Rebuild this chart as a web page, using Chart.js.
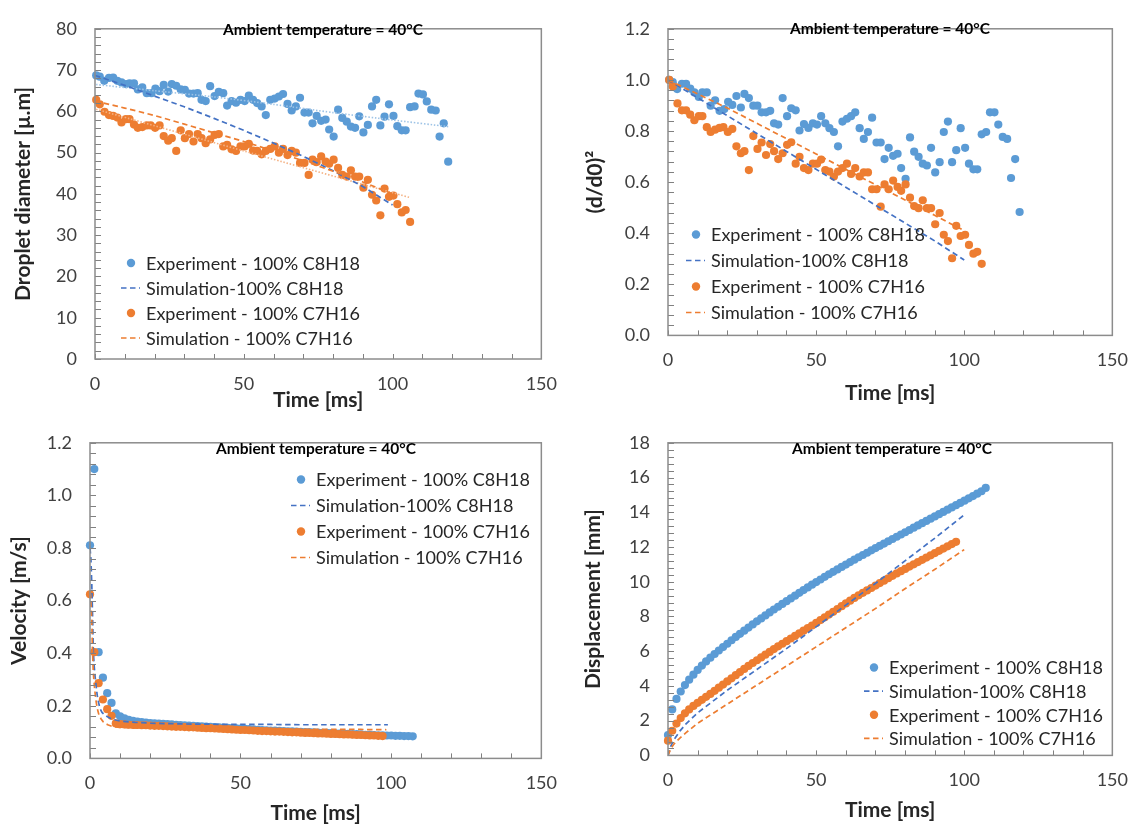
<!DOCTYPE html>
<html>
<head>
<meta charset="utf-8">
<script src="https://cdn.jsdelivr.net/npm/chart.js@4.4.1/dist/chart.umd.min.js"></script>
<style>
html,body{margin:0;padding:0;background:#fff;}
#wrap{position:relative;width:1142px;height:827px;overflow:hidden;background:#fff;}
canvas{position:absolute;display:block;}
</style>
</head>
<body>
<div id="wrap">
<canvas id="c1" width="571" height="414" style="left:0;top:0"></canvas>
<canvas id="c2" width="571" height="414" style="left:571px;top:0"></canvas>
<canvas id="c3" width="571" height="413" style="left:0;top:414px"></canvas>
<canvas id="c4" width="571" height="413" style="left:571px;top:414px"></canvas>
</div>
<script>
// ---------------- DATA ----------------
const legendLabels = ['Experiment - 100% C8H18','Simulation-100% C8H18','Experiment - 100% C7H16','Simulation - 100% C7H16'];
const noteText = 'Ambient temperature = 40\u00B0C';
const xTitle = 'Time [ms]';
const yTitles = ['Droplet diameter [\u00B5.m]','(d/d0)\u00B2','Velocity [m/s]','Displacement [mm]'];

// droplet frames (panels 1 and 2)
const timeC8 = [0.4,1.6,3.1,4.7,6.1,7.5,8.9,10.4,11.6,13.1,
 14.4,15.9,17.4,19.0,20.3,21.7,23.1,24.6,25.8,27.3,
 28.8,30.2,31.6,33.1,34.5,35.8,37.2,38.7,40.2,41.6,
 43.1,44.4,45.9,47.4,48.9,50.3,51.7,53.1,54.5,56.0,
 57.4,58.9,60.4,61.8,63.2,64.7,66.1,67.5,68.9,70.4,
 71.8,73.1,74.5,76.0,77.5,78.7,80.2,81.7,83.1,84.6,
 86.0,87.4,88.8,90.2,91.7,93.1,94.5,95.9,97.3,98.8,
 100.3,101.6,103.1,104.4,105.9,107.4,108.7,110.2,111.5,113.0,
 114.5,115.8,117.2,118.7];
const diamC8 = [68.7,68.4,67.4,68.1,68.2,67.4,67.0,66.6,66.8,66.8,
 65.3,65.8,64.4,64.4,65.5,64.9,66.4,64.8,66.6,66.2,
 65.3,65.2,64.3,64.3,64.4,62.8,62.5,66.1,63.7,64.7,
 64.4,61.4,62.5,62.1,62.8,62.5,63.8,62.8,62.0,61.2,
 59.1,62.8,63.1,63.6,64.2,61.8,60.2,61.2,63.3,59.7,
 59.7,57.1,58.9,57.7,58.0,55.6,53.9,60.4,58.4,57.5,
 56.3,56.0,58.8,54.9,56.7,61.2,62.8,56.6,58.7,61.7,
 58.9,56.4,55.4,55.4,61.0,61.2,64.3,64.1,62.4,60.4,
 60.2,53.9,57.1,47.8];
const ratioC8 = [1.0,0.991,0.964,0.985,0.985,0.966,0.951,0.933,0.951,0.951,
 0.899,0.920,0.879,0.886,0.914,0.902,0.937,0.892,0.945,0.929,
 0.899,0.899,0.873,0.873,0.879,0.830,0.825,0.929,0.858,0.889,
 0.881,0.802,0.827,0.812,0.830,0.825,0.858,0.830,0.811,0.796,
 0.740,0.837,0.848,0.858,0.873,0.811,0.769,0.796,0.852,0.755,
 0.755,0.690,0.734,0.703,0.711,0.655,0.613,0.775,0.719,0.699,
 0.672,0.665,0.734,0.638,0.678,0.796,0.837,0.678,0.725,0.811,
 0.734,0.672,0.650,0.650,0.787,0.796,0.873,0.873,0.825,0.777,
 0.769,0.616,0.690,0.483];
const timeC7 = [0.4,1.6,3.2,4.7,6.1,7.5,8.9,10.4,11.6,13.1,
 14.4,15.9,17.4,18.7,20.2,21.7,23.1,24.6,25.8,27.3,
 28.8,30.2,31.6,33.1,34.5,35.8,37.2,38.7,40.2,41.6,
 43.1,44.4,45.9,47.4,48.9,50.3,51.7,53.1,54.5,56.0,
 57.4,58.9,60.4,61.8,63.2,64.7,66.1,67.5,68.9,70.4,
 71.8,73.1,74.5,76.0,77.5,78.7,80.2,81.7,83.1,84.6,
 86.0,87.4,88.8,90.2,91.7,93.1,94.5,95.9,97.3,98.8,
 100.3,101.6,103.1,104.4,105.9];
const diamC7 = [62.8,61.7,59.9,59.1,58.9,58.5,57.3,58.1,58.1,56.8,
 56.0,56.2,56.6,56.6,56.0,56.6,54.0,52.9,53.5,50.4,
 55.4,53.5,54.5,52.7,54.5,53.5,52.3,53.2,54.3,54.5,
 51.5,51.9,50.8,50.4,51.5,51.5,52.1,50.5,50.4,49.6,
 50.4,50.9,51.5,50.0,50.9,49.4,50.4,50.0,47.5,47.5,
 44.6,48.3,47.7,49.1,47.8,47.3,48.3,46.3,44.6,44.2,
 45.7,44.2,44.2,41.5,43.4,39.8,38.4,34.8,41.3,39.3,
 39.6,37.5,35.5,36.1,33.2];
const ratioC7 = [1.0,0.974,0.908,0.881,0.881,0.864,0.842,0.858,0.858,0.815,
 0.796,0.805,0.812,0.815,0.796,0.808,0.740,0.713,0.721,0.647,
 0.780,0.730,0.755,0.706,0.749,0.721,0.690,0.713,0.746,0.756,
 0.672,0.699,0.655,0.647,0.672,0.672,0.688,0.647,0.641,0.622,
 0.641,0.655,0.672,0.632,0.655,0.622,0.638,0.638,0.572,0.572,
 0.504,0.591,0.572,0.606,0.581,0.566,0.591,0.539,0.506,0.498,
 0.529,0.498,0.498,0.435,0.479,0.394,0.369,0.302,0.429,0.389,
 0.394,0.354,0.320,0.327,0.280];

// simulation, panels 1 and 2
const simTime = [0,10,20,30,40,50,60,70,80,90,100];
const simDiamC8 = [68.7,66.3,63.7,61.1,58.3,55.4,52.3,49.1,45.6,41.8,37.3];
const simDiamC7 = [62.5,60.8,59.0,56.9,54.8,52.7,50.4,48.0,45.5,42.9,40.0];
const simRatioC8 = [1.0,0.93,0.86,0.79,0.72,0.65,0.58,0.51,0.44,0.37,0.295];
const simRatioC7 = [1.0,0.945,0.89,0.83,0.77,0.71,0.65,0.59,0.53,0.47,0.41];

// trend lines (panel 1)
const trendTimeC8 = [0.4,20,40,60,80,100,118.7];
const trendDiamC8 = [66.5,65.0,63.5,61.7,59.7,57.9,56.3];
const trendTimeC7 = [0.4,50,105.9];
const trendDiamC7 = [60.5,50.4,39.1];

// trajectory frames (panels 3 and 4)
const frameTime = [0,1.43,2.86,4.29,5.72,7.15,8.58,10.01,11.44,12.87,
 14.3,15.73,17.16,18.59,20.02,21.45,22.88,24.31,25.74,27.17,
 28.6,30.03,31.46,32.89,34.32,35.75,37.18,38.61,40.04,41.47,
 42.9,44.33,45.76,47.19,48.62,50.05,51.48,52.91,54.34,55.77,
 57.2,58.63,60.06,61.49,62.92,64.35,65.78,67.21,68.64,70.07,
 71.5,72.93,74.36,75.79,77.22,78.65,80.08,81.51,82.94,84.37,
 85.8,87.23,88.66,90.09,91.52,92.95,94.38,95.81,97.24,98.67,
 100.1,101.53,102.96,104.39,105.82,107.25];
const velC8 = [0.81,1.10,0.404,0.307,0.248,0.211,0.171,0.160,0.152,0.147,
 0.143,0.140,0.138,0.136,0.134,0.133,0.132,0.131,0.130,0.129,
 0.128,0.127,0.126,0.125,0.124,0.123,0.122,0.121,0.120,0.119,
 0.118,0.117,0.116,0.115,0.114,0.113,0.112,0.111,0.110,0.109,
 0.108,0.107,0.106,0.106,0.105,0.104,0.103,0.103,0.102,0.101,
 0.100,0.100,0.099,0.098,0.097,0.097,0.096,0.095,0.094,0.094,
 0.093,0.092,0.092,0.091,0.090,0.090,0.089,0.088,0.088,0.087,
 0.087,0.086,0.086,0.085,0.085,0.084];
const velC7 = [0.624,0.404,0.286,0.224,0.187,0.162,0.133,0.130,0.129,0.128,
 0.127,0.127,0.126,0.126,0.125,0.124,0.124,0.123,0.122,0.121,
 0.120,0.120,0.119,0.118,0.118,0.117,0.116,0.115,0.115,0.114,
 0.113,0.112,0.111,0.110,0.109,0.108,0.108,0.107,0.106,0.105,
 0.104,0.104,0.103,0.102,0.102,0.101,0.100,0.099,0.099,0.098,
 0.097,0.097,0.096,0.095,0.095,0.094,0.093,0.093,0.092,0.091,
 0.091,0.090,0.089,0.089,0.088,0.087,0.087,0.086,0.085];
const dispC8 = [1.17,2.65,3.25,3.68,4.05,4.36,4.65,4.92,5.17,5.41,
 5.63,5.84,6.04,6.24,6.43,6.63,6.82,7.0,7.18,7.36,
 7.54,7.72,7.89,8.06,8.23,8.40,8.56,8.72,8.88,9.04,
 9.2,9.36,9.52,9.67,9.83,9.98,10.13,10.28,10.43,10.57,
 10.71,10.85,10.99,11.13,11.27,11.41,11.54,11.67,11.81,11.94,
 12.07,12.2,12.33,12.46,12.59,12.72,12.85,12.98,13.11,13.24,
 13.37,13.5,13.63,13.76,13.89,14.02,14.15,14.28,14.41,14.54,
 14.67,14.8,14.93,15.07,15.21,15.4];
const dispC7 = [0.85,1.42,1.83,2.15,2.42,2.65,2.85,3.03,3.2,3.37,
 3.54,3.72,3.9,4.08,4.26,4.44,4.62,4.8,4.98,5.15,
 5.32,5.48,5.64,5.8,5.96,6.12,6.28,6.43,6.58,6.73,
 6.88,7.03,7.18,7.33,7.48,7.63,7.79,7.95,8.11,8.27,
 8.43,8.59,8.75,8.91,9.07,9.22,9.36,9.5,9.64,9.78,
 9.92,10.06,10.2,10.34,10.48,10.61,10.74,10.87,11.0,11.13,
 11.26,11.39,11.52,11.65,11.78,11.91,12.04,12.17,12.3];

// simulation, panels 3 and 4
const simVelTimeC8 = [0,0.3,0.6,0.9,1.1,1.4,1.7,2.0,2.4,2.8,3.3,4,5,6,7,8.5,10,15,20,30,40,50,60,70,80,90,99];
const simVelC8 = [0.80,0.76,0.66,0.52,0.41,0.35,0.31,0.28,0.24,0.215,0.19,0.175,0.164,0.157,0.151,0.146,0.142,0.137,0.134,0.131,0.130,0.129,0.129,0.128,0.128,0.128,0.128];
const simVelTimeC7 = [0,0.2,0.4,0.6,0.8,1.1,1.5,1.9,2.4,3,3.7,4.4,5.2,6.1,7,8.3,10,15,20,30,40,50,60,70,80,90,98.5];
const simVelC7 = [0.63,0.62,0.57,0.52,0.42,0.325,0.27,0.226,0.19,0.164,0.15,0.139,0.132,0.127,0.123,0.12,0.118,0.116,0.115,0.114,0.113,0.112,0.111,0.111,0.110,0.110,0.109];
const simDispTime = [0,1,2,4,6,10,20,30,40,50,60,70,80,90,100];
const simDispC8 = [0,0.55,0.9,1.4,1.8,2.45,3.75,4.95,6.15,7.4,8.65,9.9,11.2,12.5,13.85];
const simDispC7 = [0,0.4,0.65,1.0,1.3,1.85,2.95,4.05,5.15,6.25,7.35,8.45,9.6,10.7,11.85];

// axis ranges
const xRange = [0,150,50,10];             // min, max, label step, minor tick step
const yRanges = [[80,10,2],[1.2,0.2,0.04],[1.2,0.2,0.04],[18,2,0.4]]; // max, label step, minor step

// ---------------- STYLE ----------------
const BLUE = '#5B9BD5', BLUE_SIM = '#4472C4', ORANGE = '#ED7D31';
const FONT = 'Lato';
Chart.defaults.font.family = FONT;
Chart.defaults.color = '#404040';

function pts(xs, ys) { return ys.map((v, i) => ({x: xs[i], y: v})); }
function expSet(label, xs, ys, color, order) {
  return {label, data: pts(xs, ys), backgroundColor: color, borderColor: color, pointRadius: 4.1,
          pointBorderWidth: 0, pointHoverRadius: 4.1, showLine: false, order, clip: false};
}
function simSet(label, xs, ys, color, order) {
  return {label, data: pts(xs, ys), borderColor: color, backgroundColor: color, showLine: true,
          pointRadius: 0, borderWidth: 1.7, borderDash: [5.5, 3.5], fill: false, order, tension: 0};
}
function trendSet(label, xs, ys, color, order) {
  return {label, data: pts(xs, ys), borderColor: color, showLine: true, pointRadius: 0,
          borderWidth: 1.6, borderDash: [1.5, 1.8], fill: false, order, tension: 0.2};
}

const decorPlugin = {
  id: 'panelDecor',
  afterDraw(chart, args, o) {
    const {ctx, chartArea: a, scales: {x, y}} = chart;
    ctx.save();
    // inner tick marks
    ctx.strokeStyle = '#808080'; ctx.lineWidth = 1;
    ctx.beginPath();
    const nx = Math.round((xRange[1] - xRange[0]) / xRange[3]);
    for (let i = 0; i <= nx; i++) {
      const px = Math.round(x.getPixelForValue(xRange[0] + i * xRange[3])) + 0.5;
      ctx.moveTo(px, a.bottom); ctx.lineTo(px, a.bottom - 5);
    }
    const ny = Math.round(o.yr[0] / o.yr[2]);
    for (let i = 0; i <= ny; i++) {
      const py = Math.round(y.getPixelForValue(i * o.yr[2])) + 0.5;
      ctx.moveTo(a.left, py); ctx.lineTo(a.left + 6, py);
    }
    ctx.stroke();
    // frame
    ctx.strokeStyle = '#8c8c8c'; ctx.lineWidth = 1.5;
    ctx.strokeRect(a.left, a.top, a.right - a.left, a.bottom - a.top);
    // note
    ctx.fillStyle = '#000';
    ctx.font = 'bold 15.5px ' + FONT;
    ctx.textAlign = 'center'; ctx.textBaseline = 'middle';
    ctx.fillText(noteText, o.noteX, o.noteY);
    // legend
    ctx.font = '18px ' + FONT;
    ctx.textAlign = 'left';
    const ds = chart.data.datasets;
    for (let i = 0; i < 4; i++) {
      const d = ds[i], yy = o.lgY + i * o.lgDy;
      if (d.showLine) {
        ctx.strokeStyle = d.borderColor; ctx.lineWidth = 1.7; ctx.setLineDash([5.5, 3.5]);
        ctx.beginPath(); ctx.moveTo(o.lgX - 10, yy); ctx.lineTo(o.lgX + 9, yy); ctx.stroke();
        ctx.setLineDash([]);
      } else {
        ctx.fillStyle = d.backgroundColor;
        ctx.beginPath(); ctx.arc(o.lgX, yy, 4.2, 0, Math.PI * 2); ctx.fill();
      }
      ctx.fillStyle = '#262626';
      ctx.fillText(d.label, o.lgX + 15, yy + 1);
    }
    ctx.restore();
  }
};

function makeChart(id, p) {
  const yr = yRanges[p.idx];
  return new Chart(document.getElementById(id), {
    type: 'scatter',
    data: {datasets: p.datasets},
    options: {
      responsive: false, animation: false, events: [],
      layout: {padding: p.pad},
      plugins: {legend: {display: false}, tooltip: {enabled: false}, title: {display: false},
        panelDecor: Object.assign({yr}, p.decor)},
      scales: {
        x: {type: 'linear', position: 'bottom', min: xRange[0], max: xRange[1],
          ticks: {stepSize: xRange[2], padding: 14, maxRotation: 0, font: {size: 18}, color: '#404040'},
          grid: {display: false, drawTicks: false}, border: {display: false},
          title: {display: true, text: xTitle, font: {size: 21, weight: 'bold'}, color: '#262626', padding: {top: 0, bottom: 0}},
          afterFit: s => { s.height = p.xH; }},
        y: {type: 'linear', position: 'left', min: 0, max: yr[0],
          ticks: {stepSize: yr[1], padding: 18, font: {size: 18}, color: '#404040',
            callback: v => (yr[1] < 1 ? Number(v).toFixed(1) : String(Math.round(v)))},
          grid: {display: false, drawTicks: false}, border: {display: false},
          title: {display: true, text: yTitles[p.idx], font: {size: 21, weight: 'bold'}, color: '#262626', padding: {top: p.ytp, bottom: 0}},
          afterFit: s => { s.width = p.yW; }}
      }
    },
    plugins: [decorPlugin]
  });
}

// panel 1
makeChart('c1', {idx: 0, yW: 95, xH: 54, ytp: 11, pad: {left: 0, right: 17, top: 14, bottom: 1},
  decor: {noteX: 323, noteY: 30, lgX: 131, lgY: 263, lgDy: 25},
  datasets: [
    expSet(legendLabels[0], timeC8, diamC8, BLUE, 6),
    simSet(legendLabels[1], simTime, simDiamC8, BLUE_SIM, 2),
    expSet(legendLabels[2], timeC7, diamC7, ORANGE, 5),
    simSet(legendLabels[3], simTime, simDiamC7, ORANGE, 1),
    trendSet('Trend C8H18', trendTimeC8, trendDiamC8, '#9DC3E6', 3),
    trendSet('Trend C7H16', trendTimeC7, trendDiamC7, '#F4B183', 3)
  ]});
// panel 2
makeChart('c2', {idx: 1, yW: 97, xH: 70.6, ytp: 12, pad: {left: 0, right: 15, top: 13, bottom: 8},
  decor: {noteX: 319, noteY: 29, lgX: 125, lgY: 234.5, lgDy: 26},
  datasets: [
    expSet(legendLabels[0], timeC8, ratioC8, BLUE, 6),
    simSet(legendLabels[1], simTime, simRatioC8, BLUE_SIM, 2),
    expSet(legendLabels[2], timeC7, ratioC7, ORANGE, 5),
    simSet(legendLabels[3], simTime, simRatioC7, ORANGE, 1)
  ]});
// panel 3
makeChart('c3', {idx: 2, yW: 90, xH: 67.6, ytp: 7, pad: {left: 0, right: 22, top: 21, bottom: 1},
  decor: {noteX: 316, noteY: 35, lgX: 301, lgY: 65.5, lgDy: 26},
  datasets: [
    expSet(legendLabels[0], frameTime, velC8, BLUE, 6),
    simSet(legendLabels[1], simVelTimeC8, simVelC8, BLUE_SIM, 2),
    expSet(legendLabels[2], frameTime.slice(0, velC7.length), velC7, ORANGE, 5),
    simSet(legendLabels[3], simVelTimeC7, simVelC7, ORANGE, 1)
  ]});
// panel 4
makeChart('c4', {idx: 3, yW: 97, xH: 67.6, ytp: 10, pad: {left: 0, right: 15, top: 19, bottom: 4},
  decor: {noteX: 321, noteY: 35, lgX: 303, lgY: 253.5, lgDy: 23.6},
  datasets: [
    expSet(legendLabels[0], frameTime, dispC8, BLUE, 6),
    simSet(legendLabels[1], simDispTime, simDispC8, BLUE_SIM, 2),
    expSet(legendLabels[2], frameTime.slice(0, dispC7.length), dispC7, ORANGE, 5),
    simSet(legendLabels[3], simDispTime, simDispC7, ORANGE, 1)
  ]});
</script>
</body>
</html>
